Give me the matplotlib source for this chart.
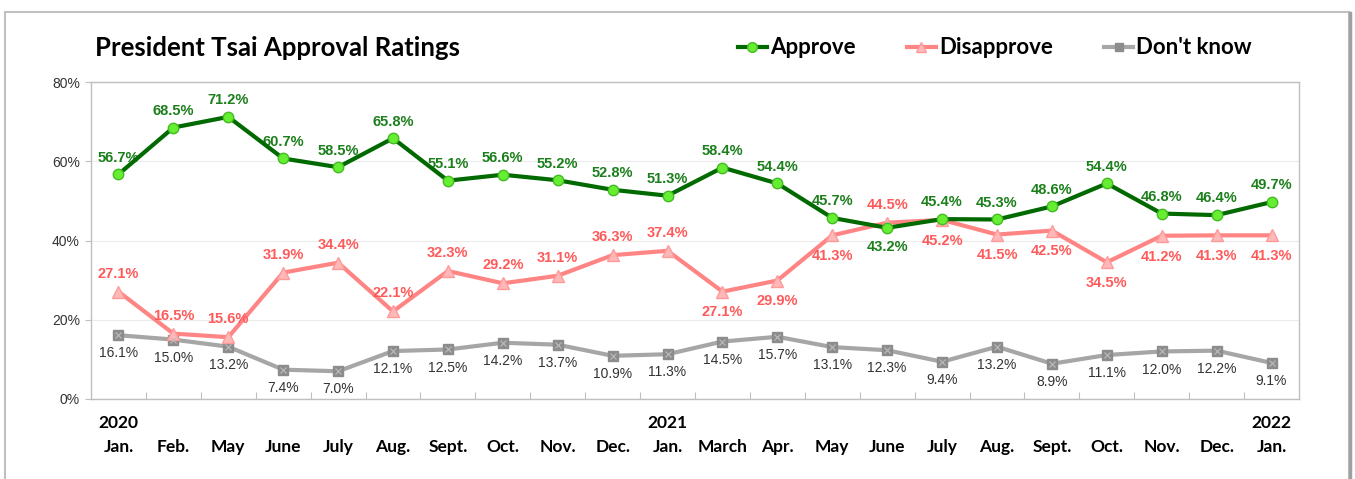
import matplotlib.pyplot as plt
from matplotlib.patches import Rectangle
from matplotlib.lines import Line2D
import matplotlib.transforms as mtransforms

months = ["Jan.", "Feb.", "May", "June", "July", "Aug.", "Sept.", "Oct.", "Nov.", "Dec.",
          "Jan.", "March", "Apr.", "May", "June", "July", "Aug.", "Sept.", "Oct.", "Nov.", "Dec.", "Jan."]
years = {0: "2020", 10: "2021", 21: "2022"}

approve = [56.7, 68.5, 71.2, 60.7, 58.5, 65.8, 55.1, 56.6, 55.2, 52.8, 51.3,
           58.4, 54.4, 45.7, 43.2, 45.4, 45.3, 48.6, 54.4, 46.8, 46.4, 49.7]
disapprove = [27.1, 16.5, 15.6, 31.9, 34.4, 22.1, 32.3, 29.2, 31.1, 36.3, 37.4,
              27.1, 29.9, 41.3, 44.5, 45.2, 41.5, 42.5, 34.5, 41.2, 41.3, 41.3]
dont_know = [16.1, 15.0, 13.2, 7.4, 7.0, 12.1, 12.5, 14.2, 13.7, 10.9, 11.3,
             14.5, 15.7, 13.1, 12.3, 9.4, 13.2, 8.9, 11.1, 12.0, 12.2, 9.1]

# label placement: True = above the point
approve_up = [i != 14 for i in range(len(approve))]
disapprove_up = [i <= 10 or i == 14 for i in range(len(disapprove))]

W, H = 1355, 479
fig = plt.figure(figsize=(W / 100, H / 100), dpi=100)
ax = fig.add_axes([91 / W, 1 - 399 / H, (1299 - 91) / W, (399 - 82) / H])

x = list(range(len(months)))

green_line = "#006a00"
green_text = "#1b7f1b"
pink_line = "#ff8585"
pink_text = "#ff5a5a"
gray_line = "#a6a6a6"

ax.plot(x, dont_know, color=gray_line, lw=3, marker="s", ms=7,
        mfc="#8c8c8c", mec="#8c8c8c", zorder=3)
ax.plot(x, dont_know, ls="none", marker="x", ms=5, mec="#bdbdbd", mew=0.8, zorder=4)
ax.plot(x, disapprove, color=pink_line, lw=3, marker="^", ms=8.5,
        mfc="#ffb8b8", mec="#ff9a9a", zorder=3)
ax.plot(x, approve, color=green_line, lw=3, marker="o", ms=7.5,
        mfc="#66ee33", mec="#44bb22", zorder=5)

lab_font = dict(family="Liberation Sans", fontsize=10.5, fontweight="bold", ha="center", va="center")
for i, v in enumerate(approve):
    off = 12 if approve_up[i] else -14
    ax.annotate(f"{v:.1f}%", (i, v), xytext=(0, off), textcoords="offset points",
                color=green_text, **lab_font)
for i, v in enumerate(disapprove):
    off = 13 if disapprove_up[i] else -15
    ax.annotate(f"{v:.1f}%", (i, v), xytext=(0, off), textcoords="offset points",
                color=pink_text, **lab_font)
for i, v in enumerate(dont_know):
    ax.annotate(f"{v:.1f}%", (i, v), xytext=(0, -13), textcoords="offset points",
                color="#333333", family="Liberation Sans", fontsize=10, ha="center", va="center")

ax.set_xlim(-0.5, len(months) - 0.5)
ax.set_ylim(0, 80)
ax.set_yticks([0, 20, 40, 60, 80])
ax.set_yticklabels([f"{t}%" for t in [0, 20, 40, 60, 80]], family="Liberation Sans",
                   fontsize=10, color="#333333")
ax.tick_params(axis="y", length=4, width=0.8, color="#bfbfbf", pad=4)
ax.grid(axis="y", color="#ececec", lw=0.8)
ax.set_axisbelow(True)

ax.set_xticks(x)
ax.set_xticklabels(months, family="Lato", fontweight="bold", fontsize=12.5)
ax.tick_params(axis="x", length=0, pad=29)
ax.set_xticks([i + 0.5 for i in x[:-1]], minor=True)
ax.tick_params(axis="x", which="minor", length=5, width=0.8, color="#bfbfbf", direction="in")

for s in ax.spines.values():
    s.set_color("#bfbfbf")
    s.set_linewidth(1)

trans = mtransforms.blended_transform_factory(ax.transData, fig.transFigure)
for i, yr in years.items():
    ax.text(i, 1 - 423 / H, yr, transform=trans, ha="center", va="center",
            family="Lato", fontweight="bold", fontsize=12.5, clip_on=False)

fig.text(95 / W, 1 - 48 / H, "President Tsai Approval Ratings", family="Lato",
         fontweight="bold", fontsize=18.5, ha="left", va="center")

handles = [
    Line2D([], [], color=green_line, lw=3, marker="o", ms=7, mfc="#66ee33", mec="#44bb22"),
    Line2D([], [], color=pink_line, lw=3, marker="^", ms=7, mfc="#ffb8b8", mec="#ff9a9a"),
    Line2D([], [], color=gray_line, lw=3, marker="s", ms=6, mfc="#8c8c8c", mec="#8c8c8c"),
]
fig.legend(handles, ["Approve", "Disapprove", "Don't know"], loc="center",
           bbox_to_anchor=(995 / W, 1 - 48 / H), ncol=3, frameon=False,
           prop=dict(family="Lato", weight="bold", size=16), handlelength=1.3,
           handletextpad=0.15, columnspacing=2.3)

fig.patches.append(Rectangle((5 / W, -0.05), (1349 - 5) / W, 1.05 - 12 / H,
                             transform=fig.transFigure, fill=False,
                             edgecolor="#c0c0c0", lw=1.5))
fig.lines.append(Line2D([1350 / W, 1350 / W], [0, 1 - 13 / H], transform=fig.transFigure,
                        color="#a0a0a0", lw=2.5))

fig.savefig("out.png", dpi=100)
